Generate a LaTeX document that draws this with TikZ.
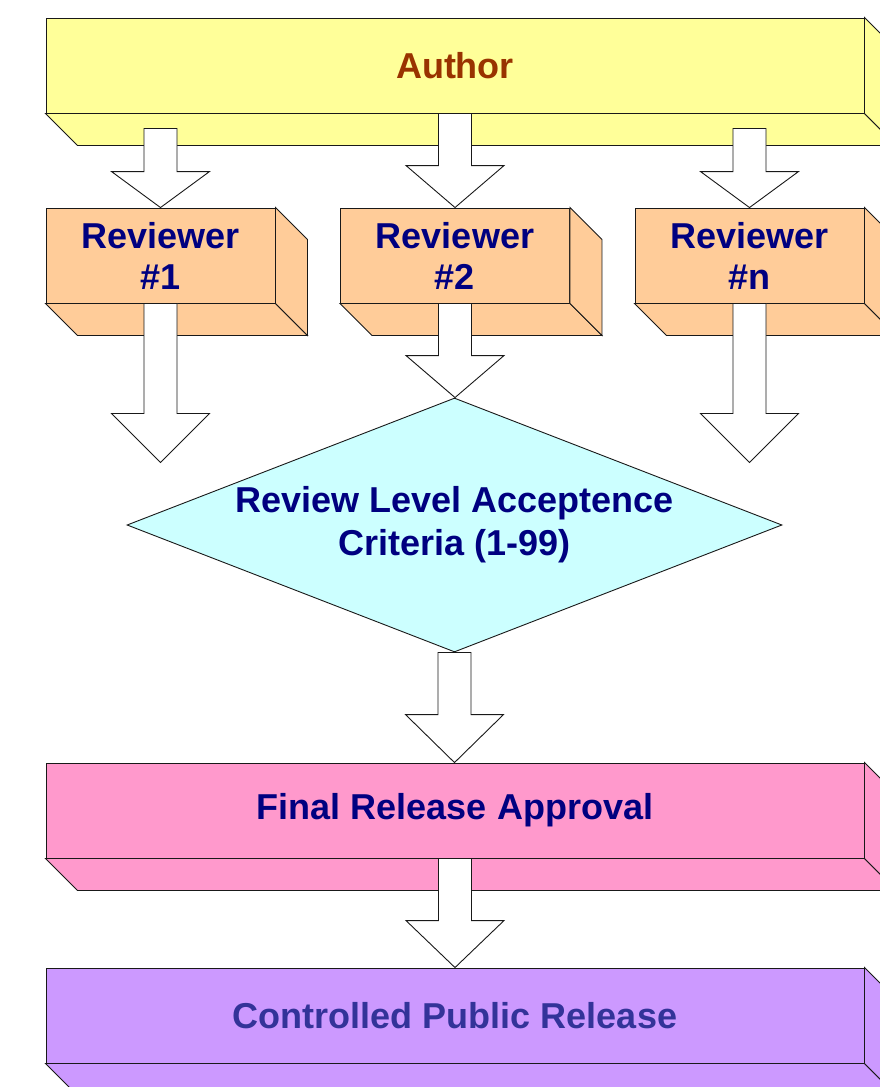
\documentclass[tikz,border=0pt]{standalone}
\usepackage{fontspec}
\setmainfont{Liberation Sans}
\usetikzlibrary{calc,shapes.geometric}
\definecolor{authorfill}{HTML}{FFFF99}
\definecolor{authortext}{HTML}{993300}
\definecolor{revfill}{HTML}{FFCC99}
\definecolor{critfill}{HTML}{CCFFFF}
\definecolor{finalfill}{HTML}{FF99CC}
\definecolor{pubfill}{HTML}{CC99FF}
\definecolor{navytext}{HTML}{000080}
\definecolor{pubtext}{HTML}{333399}
\newcommand{\blockarrow}[3]{%
	\draw[blockarrow] let \p1 = #1, \p2 = #2 in
	(\x1-16.5pt,\y1) -- (\x1+16.5pt,\y1) -- (\x1+16.5pt,\y2+#3pt) -- (\x1+49pt,\y2+#3pt)
	-- (\x1,\y2) -- (\x1-49pt,\y2+#3pt) -- (\x1-16.5pt,\y2+#3pt) -- cycle;
}
\begin{document}
\begin{tikzpicture}[
x=1pt, y=-1pt,
box/.style={
	rectangle, draw=black!90, line width=0.9pt,
	minimum height=95pt, inner sep=0pt, align=center,
	font=\fontsize{36}{41}\selectfont\bfseries, text=navytext
},
wide/.style={box, minimum width=818pt},
rev/.style={box, minimum width=229pt, fill=revfill},
face/.style={draw=black!90, line width=0.9pt, line join=miter},
crit/.style={
	diamond, aspect=2.58, draw=black!90, line width=0.9pt, fill=critfill,
	minimum width=655pt, minimum height=254pt, inner sep=0pt, align=center,
	font=\fontsize{36}{43}\selectfont\bfseries, text=navytext
},
blockarrow/.style={draw=black!90, fill=white, line width=0.9pt, line join=miter}
]
\clip (0,0) rectangle (880,1087);
\fill[white] (0,0) rectangle (880,1087);
\node[wide,fill=authorfill,text=authortext] (author) at (455,65.5) {Author};
\node[rev] (rev1) at (160.5,255.5) {Reviewer\\\#1};
\node[rev] (rev2) at (455,255.5) {Reviewer\\\#2};
\node[rev] (revn) at (749.5,255.5) {Reviewer\\\#n};
\node[crit] (crit) at (454.5,525) {Review Level Acceptence\\Criteria (1-99)};
\node[wide,fill=finalfill] (final) at (455,810.5) {Final Release Approval};
\node[wide,fill=pubfill,text=pubtext] (pub) at (455,1015.5) {Controlled Public Release};
% extruded sides
\foreach \n/\c in {author/authorfill,rev1/revfill,rev2/revfill,revn/revfill,final/finalfill,pub/pubfill}
{
	\filldraw[face,fill=\c] (\n.south west) -- (\n.south east) -- ++(32,32)
		-- ($(\n.south west)+(32,32)$) -- cycle;
	\filldraw[face,fill=\c] (\n.north east) -- ++(32,32)
		-- ($(\n.south east)+(32,32)$) -- (\n.south east) -- cycle;
}
\coordinate (a1) at ($(author.south -| rev1.north)+(0,15)$);
\coordinate (an) at ($(author.south -| revn.north)+(0,15)$);
\coordinate (t1) at ($(rev1.south)+(0,159)$);
\coordinate (tn) at ($(revn.south)+(0,159)$);
\blockarrow{(a1)}{(rev1.north)}{36}
\blockarrow{(author.south -| rev2.north)}{(rev2.north)}{42}
\blockarrow{(an)}{(revn.north)}{36}
\blockarrow{(rev1.south)}{(t1)}{49}
\blockarrow{(rev2.south)}{(crit.north)}{42}
\blockarrow{(revn.south)}{(tn)}{49}
\blockarrow{(crit.south)}{(final.north)}{48}
\blockarrow{(final.south)}{(pub.north)}{47}
\end{tikzpicture}
\end{document}
